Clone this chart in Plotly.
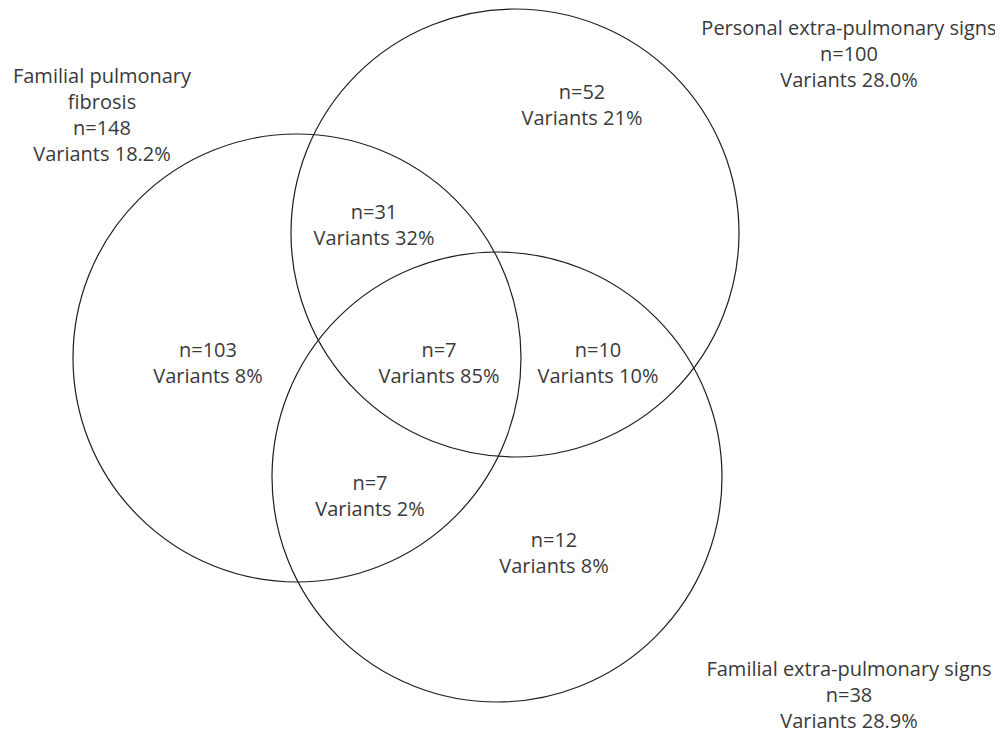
import plotly.graph_objects as go

# ---- data ----
set_names = ["Familial pulmonary<br>fibrosis", "Personal extra-pulmonary signs", "Familial extra-pulmonary signs"]
set_n = [148, 100, 38]
set_variants = ["18.2%", "28.0%", "28.9%"]

region_n = [103, 52, 12, 31, 7, 10, 7]
region_variants = ["8%", "21%", "8%", "32%", "2%", "10%", "85%"]

# ---- layout (pixel space of the page) ----
W, H = 1003, 733
PAGE_OFF = 8  # default body margin of the html page
circle_centers = [(297, 358), (515, 233), (497, 477)]
circle_r = [224, 224, 225]
set_label_pos = [(102, 117), (849, 56), (849, 697)]
region_label_pos = [(208, 365), (582, 107), (554, 555), (374, 227), (370, 498), (598, 365), (439, 365)]

fig = go.Figure()

for (cx, cy), r in zip(circle_centers, circle_r):
    fig.add_shape(type="circle", xref="x", yref="y",
                  x0=cx - r, x1=cx + r, y0=cy - r, y1=cy + r,
                  line=dict(color="#1e1e1e", width=1.2), fillcolor="rgba(0,0,0,0)")

set_text = [f"{nm}<br>n={n}<br>Variants {v}" for nm, n, v in zip(set_names, set_n, set_variants)]
reg_text = [f"n={n}<br>Variants {v}" for n, v in zip(region_n, region_variants)]

font = dict(family="Open Sans", size=20, color="#3a3a3a")
fig.add_trace(go.Scatter(x=[p[0] for p in set_label_pos], y=[p[1] for p in set_label_pos],
                         mode="text", text=set_text, textposition="middle center",
                         textfont=font, hoverinfo="skip"))
fig.add_trace(go.Scatter(x=[p[0] for p in region_label_pos], y=[p[1] for p in region_label_pos],
                         mode="text", text=reg_text, textposition="middle center",
                         textfont=font, hoverinfo="skip"))

fig.update_layout(width=W, height=H, margin=dict(l=0, r=0, t=0, b=0),
                  plot_bgcolor="white", paper_bgcolor="white", showlegend=False)
fig.update_xaxes(range=[PAGE_OFF, W + PAGE_OFF], visible=False, fixedrange=True)
fig.update_yaxes(range=[H + PAGE_OFF, PAGE_OFF], visible=False, fixedrange=True)

fig.write_html("out.html")
